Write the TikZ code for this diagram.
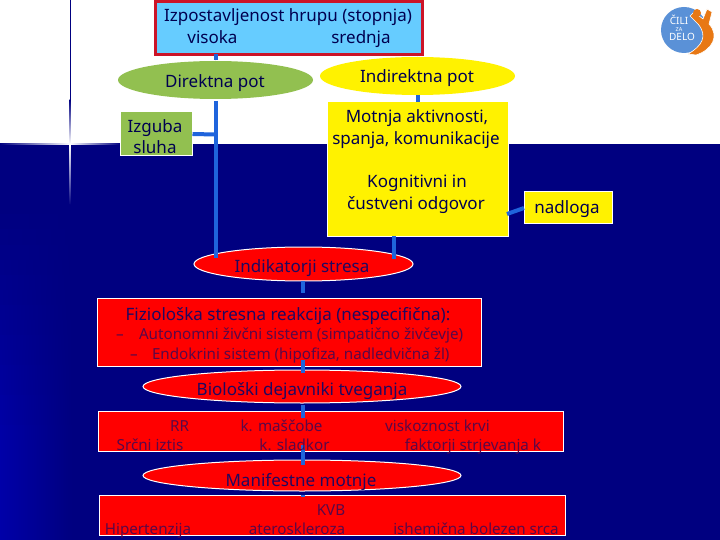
\documentclass[tikz,border=0pt]{standalone}
\usepackage{fontspec}
\setmainfont{Noto Sans}
\usetikzlibrary{shapes.geometric}
\definecolor{navybg}{HTML}{000080}
\definecolor{leftbg}{HTML}{0000A8}
\definecolor{link}{HTML}{1F64DC}
\definecolor{skyfill}{HTML}{66CCFF}
\definecolor{leaf}{HTML}{92C050}
\definecolor{inkdark}{HTML}{000050}
\definecolor{inkred}{HTML}{5A0848}
\definecolor{inkbold}{HTML}{200860}
\definecolor{topred}{HTML}{CC1428}
\definecolor{logoblue}{HTML}{5A91D7}
\definecolor{logoorange}{HTML}{E87814}
\tikzset{
  x=1pt,y=-1pt,
  boxshape/.style={draw=white,line width=1pt,inner sep=0pt,outer sep=0pt},
  oval/.style={ellipse,inner sep=0pt,outer sep=0pt},
  txt/.style={inner sep=0pt,outer sep=0pt,anchor=base,font=\fontsize{17}{20}\selectfont,text=inkdark},
  redbold/.style={txt,text=inkbold},
  redthin/.style={txt,text=inkred,font=\fontsize{15.2}{18}\selectfont},
  wire/.style={draw=link,line width=4pt}
}
\begin{document}
\begin{tikzpicture}
\useasboundingbox (0,0) rectangle (720,540);
% background
\fill[white] (0,0) rectangle (720,144);
\fill[navybg] (0,144) rectangle (720,540);
\foreach \n in {0,...,16} {
  \pgfmathsetmacro{\pct}{\n*100/16}
  \pgfmathsetmacro{\ya}{200+\n*15}
  \pgfmathsetmacro{\yb}{200+\n*15+15.5}
  \colorlet{bandc}{leftbg!\pct!navybg}
  \shade[left color=bandc,right color=navybg] (0,\ya) rectangle (72,\yb);
}
\shade[left color=leftbg,right color=navybg] (0,440) rectangle (72,540);
\draw[navybg,line width=1pt] (70,0) -- (70,100);
\shade[left color=navybg,right color=white] (0,143.2) rectangle (70,145);
\shade[left color=white,right color=navybg] (70,143.2) rectangle (120,145);
\shade[top color=white,bottom color=navybg] (69.5,145) rectangle (70.5,205);
\shade[top color=navybg,bottom color=white] (69.5,100) rectangle (70.5,144);
% shapes
\node[draw=topred,fill=skyfill,line width=3pt,inner sep=0pt,outer sep=0pt,minimum width=267pt,minimum height=53pt] (top) at (289,28) {};
\node[oval,fill=leaf,minimum width=195pt,minimum height=38pt] (direct) at (215.5,80) {};
\node[oval,fill=yellow,minimum width=195pt,minimum height=38pt] (indirect) at (417.5,76) {};
\node[boxshape,fill=leaf,minimum width=72pt,minimum height=44pt] (loss) at (156.5,134) {};
\node[boxshape,fill=yellow,minimum width=181pt,minimum height=134pt] (yel) at (417.5,169) {};
\node[boxshape,fill=yellow,minimum width=88pt,minimum height=32pt] (load) at (568,208) {};
\node[oval,draw=white,line width=1pt,fill=red,minimum width=219pt,minimum height=34pt] (stress) at (303.5,264) {};
\node[boxshape,fill=red,minimum width=384pt,minimum height=68pt] (physio) at (289,332) {};
\node[oval,draw=white,line width=1pt,fill=red,minimum width=318pt,minimum height=33pt] (bio) at (302,386.5) {};
\node[boxshape,fill=red,minimum width=465pt,minimum height=40pt] (risk) at (330.5,431) {};
\node[oval,draw=white,line width=1pt,fill=red,minimum width=318pt,minimum height=31pt] (manif) at (302,475.5) {};
\node[boxshape,fill=red,minimum width=466pt,minimum height=40pt] (disease) at (332,515) {};
% connectors
\coordinate (c1) at (215,134.5);
\coordinate (c2) at (507,214);
\coordinate (axa) at (303,0);
\coordinate (axb) at (394,0);
\draw[wire] (top.south -| direct.north) -- ([yshift=1pt]direct.north);
\draw[wire,shorten <=2pt,shorten >=-11pt] (direct.south) -- (direct.south |- stress.north);
\draw[wire] (loss.east) -- (c1);
\draw[wire] (indirect.south) -- (indirect.south |- yel.north);
\draw[wire,shorten >=-12pt] (axb |- yel.south) -- (axb |- stress.north);
\draw[wire] (c2) -- (load.west);
\draw[wire,shorten >=5pt] (axa |- stress.south) -- (axa |- physio.north);
\draw[wire,shorten <=-6pt,shorten >=-3pt] (axa |- physio.south) -- (axa |- bio.north);
\draw[wire,shorten <=2pt,shorten >=-7pt] (axa |- bio.south) -- (axa |- risk.north);
\draw[wire,shorten <=-6pt,shorten >=-5pt] (axa |- risk.south) -- (axa |- manif.north);
\draw[wire,shorten <=6pt] (axa |- manif.south) -- (axa |- disease.north);
% texts
\node[txt] (t1) at (288,22) {Izpostavljenost hrupu (stopnja)};
\node[txt] (t2) at (212.5,44) {visoka};
\node[txt] (t3) at (361,44) {srednja};
\node[txt] (t4) at (215,88) {Direktna pot};
\node[txt] (t5) at (417,83) {Indirektna pot};
\node[txt] (t6a) at (155,133) {Izguba};
\node[txt] (t6b) at (155,154) {sluha};
\node[txt] (t7a) at (417,123) {Motnja aktivnosti,};
\node[txt] (t7b) at (416,145) {spanja, komunikacije};
\node[txt] (t8a) at (417,188) {Kognitivni in};
\node[txt] (t8b) at (416,210) {čustveni odgovor};
\node[txt] (t9) at (567,214) {nadloga};
\node[redbold] (t10) at (302,272) {Indikatorji stresa};
\node[redbold] (t11) at (288,320) {Fiziološka stresna reakcija (nespecifična):};
\node[redthin] (d12) at (120,339) {–};
\node[redthin,anchor=base west] (t12) at (139,339) {Autonomni živčni sistem (simpatično živčevje)};
\node[redthin] (d13) at (134,359) {–};
\node[redthin,anchor=base west] (t13) at (152,359) {Endokrini sistem (hipofiza, nadledvična žl)};
\node[redbold] (t14) at (302,395) {Biološki dejavniki tveganja};
\node[redthin] (t15) at (179.5,431) {RR};
\node[redthin] (t16) at (150,450) {Srčni iztis};
\node[redthin] (t17) at (281.5,431) {k. maščobe};
\node[redthin] (t18) at (294.5,450) {k. sladkor};
\node[redthin] (t19) at (437.5,431) {viskoznost krvi};
\node[redthin] (t20) at (473,450) {faktorji strjevanja k};
\node[redbold] (t21) at (301,486) {Manifestne motnje};
\node[redthin] (t22) at (331,515) {KVB};
\node[redthin] (t23) at (148,534) {Hipertenzija};
\node[redthin] (t24) at (297,534) {ateroskleroza};
\node[redthin] (t25) at (476,534) {ishemična bolezen srca};
% logo
\fill[logoblue] (684,30) circle (23);
\fill[logoorange,draw=white,line width=0.6pt] (688,54) .. controls (702,46) and (708,36) .. (698,24) -- (690,16) -- (694,12) -- (703,19) -- (707,9) -- (712,12) -- (709,24) .. controls (720,36) and (712,50) .. (696,55) -- cycle;
\fill[logoorange] (697,13) circle (4);
\node[inner sep=0pt,font=\fontsize{10}{9}\selectfont\bfseries,text=white,anchor=base] (logo1) at (679,24.5) {ČILI};
\node[inner sep=0pt,font=\fontsize{5.5}{6}\selectfont\bfseries,text=white,anchor=base] (logo2) at (679,31.5) {ZA};
\node[inner sep=0pt,font=\fontsize{10}{9}\selectfont\bfseries,text=white,anchor=base] (logo3) at (682,41) {DELO};
\end{tikzpicture}
\end{document}
